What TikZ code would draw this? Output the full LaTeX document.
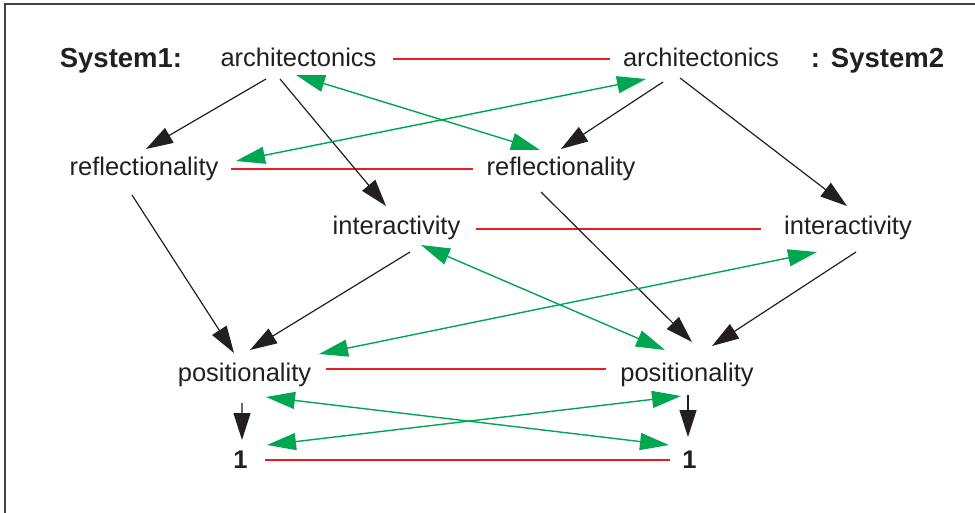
\documentclass[tikz,border=0pt]{standalone}
\usepackage{fontspec}
\setmainfont{Liberation Sans}
\usetikzlibrary{arrows.meta}
\definecolor{ink}{HTML}{231F20}
\definecolor{grn}{HTML}{00A651}
\definecolor{redln}{HTML}{ED1C24}
\begin{document}
\begin{tikzpicture}[x=1bp,y=-1bp,
  lbl/.style={anchor=base, inner sep=0pt, text=ink, font=\fontsize{25.5bp}{30bp}\selectfont},
  blbl/.style={anchor=base, inner sep=0pt, text=ink, font=\fontsize{27.5bp}{32bp}\selectfont\bfseries},
  onelbl/.style={anchor=base, inner sep=0pt, text=ink, font=\fontsize{25.5bp}{30bp}\selectfont\bfseries},
  blk/.style={draw=ink, line width=1.2bp, -{Triangle[length=27bp,width=17bp]}},
  gr/.style={draw=grn, line width=1.4bp, {Triangle[length=29bp,width=17bp]}-{Triangle[length=29bp,width=17bp]}},
  rd/.style={draw=redln, line width=1.2bp},
  frame/.style={draw=ink!85, line width=2.2bp}]
\useasboundingbox (0,0) rectangle (975,513);
\draw[frame] (5,513) -- (5,4) -- (975,4);

% nodes
\node[blbl] (sys1) at (121,68) {System1:};
\node[lbl] (arch1) at (298.5,67) {architectonics};
\node[lbl] (arch2) at (701,67) {architectonics};
\node[blbl] (sys2) at (877.5,68) {:\hspace{0.4em}System2};
\node[lbl] (refl1) at (144,176) {reflectionality};
\node[lbl] (refl2) at (561,176) {reflectionality};
\node[lbl] (inter1) at (396.5,235) {interactivity};
\node[lbl] (inter2) at (848,235) {interactivity};
\node[lbl] (pos1) at (244.5,382) {positionality};
\node[lbl] (pos2) at (687,382) {positionality};
\node[onelbl] (one1) at (240.5,468) {1};
\node[onelbl] (one2) at (689.5,468) {1};

% red correspondence lines
\draw[rd] ([shift={(94.5,-8)}]arch1.base) -- ([shift={(-91,-8)}]arch2.base);
\draw[rd] ([shift={(87,-7)}]refl1.base) -- ([shift={(-88,-7)}]refl2.base);
\draw[rd] ([shift={(79.5,-6)}]inter1.base) -- ([shift={(-87,-6)}]inter2.base);
\draw[rd] ([shift={(81.5,-13)}]pos1.base) -- ([shift={(-81,-13)}]pos2.base);
\draw[rd] ([shift={(24.5,-8)}]one1.base) -- ([shift={(-19.5,-8)}]one2.base);

% black arrows
\draw[blk] ([shift={(-32.5,12)}]arch1.base) -- ([shift={(2,-27)}]refl1.base);
\draw[blk] ([shift={(-18.5,12)}]arch1.base) -- ([shift={(-10.5,-29)}]inter1.base);
\draw[blk] ([shift={(-38,15)}]arch2.base) -- ([shift={(0,-27)}]refl2.base);
\draw[blk] ([shift={(-21,11)}]arch2.base) -- ([shift={(-1,-29)}]inter2.base);
\draw[blk] ([shift={(-12,19)}]refl1.base) -- ([shift={(-10.5,-29)}]pos1.base);
\draw[blk] ([shift={(13.5,17)}]inter1.base) -- ([shift={(5.5,-32)}]pos1.base);
\draw[blk] ([shift={(-20,16)}]refl2.base) -- ([shift={(5,-40)}]pos2.base);
\draw[blk] ([shift={(8,17)}]inter2.base) -- ([shift={(25,-36)}]pos2.base);
\draw[blk] ([shift={(-2.5,21)}]pos1.base) -- ([shift={(1.5,-28)}]one1.base);
\draw[blk] ([shift={(1,13)}]pos2.base) -- ([shift={(-1.5,-31)}]one2.base);

% green double arrows
\draw[gr] ([shift={(-2.5,8)}]arch1.base) -- ([shift={(-21,-26)}]refl2.base);
\draw[gr] ([shift={(-55,12)}]arch2.base) -- ([shift={(92,-15)}]refl1.base);
\draw[gr] ([shift={(24.5,10)}]inter1.base) -- ([shift={(-22,-32)}]pos2.base);
\draw[gr] ([shift={(-31,17)}]inter2.base) -- ([shift={(74.5,-28)}]pos1.base);
\draw[gr] ([shift={(21.5,15)}]pos1.base) -- ([shift={(-20.5,-23)}]one2.base);
\draw[gr] ([shift={(-6,14)}]pos2.base) -- ([shift={(26.5,-23)}]one1.base);
\end{tikzpicture}
\end{document}
